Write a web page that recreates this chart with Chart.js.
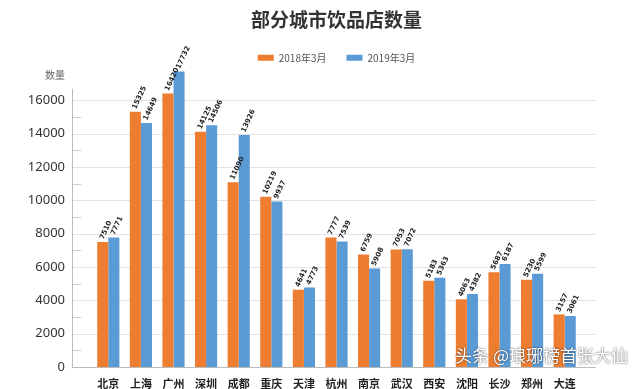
<!DOCTYPE html>
<html>
<head>
<meta charset="utf-8">
<script src="https://cdn.jsdelivr.net/npm/chart.js@4"></script>
<style>
  body { margin: 0; background: #fff; }
  canvas { display: block; }
</style>
</head>
<body>
<canvas id="shopChart" width="640" height="389"></canvas>
<script>
// data
const cities = ["北京", "上海", "广州", "深圳", "成都", "重庆", "天津", "杭州", "南京", "武汉", "西安", "沈阳", "长沙", "郑州", "大连"];
const shops2018 = [7510, 15325, 16420, 14125, 11090, 10219, 4641, 7777, 6759, 7053, 5183, 4063, 5687, 5230, 3157];
const shops2019 = [7771, 14649, 17732, 14506, 13926, 9937, 4773, 7539, 5908, 7072, 5363, 4382, 6187, 5599, 3061];
const seriesNames = ["2018年3月", "2019年3月"];

const FONT = "'Noto Sans CJK SC', 'Noto Sans', sans-serif";

// extra room under the legend
const legendGap = {
  id: "legendGap",
  beforeInit(chart) {
    const fit = chart.legend.fit;
    chart.legend.fit = function () {
      fit.call(this);
      this.height += 11;
    };
  }
};

// gridlines, axis line, value labels, y title, watermark
const decorPlugin = {
  id: "decor",
  beforeDatasetsDraw(chart) {
    const { ctx, chartArea, scales } = chart;
    const y = scales.y;
    const axisX = chartArea.left - 20;
    const gridRight = chartArea.right + 15;
    ctx.save();
    ctx.lineWidth = 1;
    y.ticks.forEach(t => {
      const py = Math.round(y.getPixelForValue(t.value)) + 0.5;
      ctx.strokeStyle = t.value === 0 ? "#bbb" : "#e2e2e2";
      ctx.beginPath();
      ctx.moveTo(axisX, py);
      ctx.lineTo(gridRight, py);
      ctx.stroke();
    });
    // minor ticks
    ctx.strokeStyle = "#ccc";
    for (let v = 1000; v < 17000; v += 2000) {
      const py = Math.round(y.getPixelForValue(v)) + 0.5;
      ctx.beginPath();
      ctx.moveTo(axisX, py);
      ctx.lineTo(axisX + 9, py);
      ctx.stroke();
    }
    ctx.strokeStyle = "#bbb";
    ctx.beginPath();
    ctx.moveTo(axisX + 0.5, y.getPixelForValue(16700));
    ctx.lineTo(axisX + 0.5, y.getPixelForValue(0));
    ctx.stroke();
    // y title
    ctx.fillStyle = "#666";
    ctx.font = "10px " + FONT;
    ctx.textAlign = "center";
    ctx.textBaseline = "middle";
    ctx.fillText("数量", axisX - 17, y.getPixelForValue(17500));
    ctx.restore();
  },
  afterDatasetsDraw(chart) {
    const { ctx } = chart;
    ctx.save();
    ctx.font = "bold 7px 'DejaVu Sans', sans-serif";
    ctx.fillStyle = "#222";
    ctx.textAlign = "left";
    ctx.textBaseline = "middle";
    chart.data.datasets.forEach((ds, i) => {
      chart.getDatasetMeta(i).data.forEach((bar, j) => {
        ctx.save();
        ctx.translate(bar.x - 1, bar.y - 3);
        ctx.rotate(-Math.PI * 65 / 180);
        ctx.fillText(String(ds.data[j]), 0, 0);
        ctx.restore();
      });
    });
    // watermark
    ctx.font = "17px " + FONT;
    ctx.textAlign = "right";
    ctx.textBaseline = "middle";
    ctx.shadowColor = "rgba(0,0,0,0.8)";
    ctx.shadowBlur = 2;
    ctx.fillStyle = "#fff";
    ctx.fillText("头条 @琅琊榜首张大仙", 628, 356);
    ctx.restore();
  }
};

const hiddenAxis = w => ({
  grid: { display: false, drawTicks: false },
  border: { display: false },
  ticks: { display: false, padding: 0 },
  afterFit(s) { s.width = w; }
});

new Chart(document.getElementById("shopChart"), {
  type: "bar",
  data: {
    labels: cities,
    datasets: [
      { label: seriesNames[0], data: shops2018, backgroundColor: "#ED7D31", clip: false },
      { label: seriesNames[1], data: shops2019, backgroundColor: "#5B9BD5", clip: false }
    ]
  },
  options: {
    responsive: false,
    animation: false,
    devicePixelRatio: 1,
    layout: { padding: { left: 0, right: 0, top: 7, bottom: 0 } },
    datasets: { bar: { barPercentage: 1, categoryPercentage: 0.68 } },
    plugins: {
      title: {
        display: true,
        fullSize: false,
        text: "部分城市饮品店数量",
        color: "#333",
        font: { family: FONT, size: 19, weight: "bold" },
        padding: { top: 1, bottom: 2 }
      },
      legend: {
        position: "top",
        fullSize: false,
        labels: {
          boxWidth: 16,
          boxHeight: 6,
          padding: 20,
          color: "#555",
          font: { family: FONT, size: 10 }
        }
      },
      tooltip: { enabled: false }
    },
    scales: {
      x: {
        grid: { display: false, drawTicks: false },
        border: { display: false },
        afterFit(s) { s.height = 22; },
        ticks: { color: "#222", padding: 10, font: { family: FONT, size: 11, weight: "bold" } }
      },
      y: {
        min: 0,
        max: 17000,
        weight: 1,
        grid: { display: false, drawTicks: false },
        border: { display: false },
        afterFit(s) { s.width = 72; },
        afterBuildTicks(s) { s.ticks = s.ticks.filter(t => t.value % 2000 === 0); },
        ticks: {
          stepSize: 1000,
          padding: 7,
          color: "#333",
          font: { family: "'Noto Sans', sans-serif", size: 13 },
          callback: v => String(v)
        }
      },
      yGap: Object.assign({ position: "left", weight: 0 }, hiddenAxis(20)),
      yRight: Object.assign({ position: "right" }, hiddenAxis(59))
    }
  },
  plugins: [legendGap, decorPlugin]
});
</script>
</body>
</html>
